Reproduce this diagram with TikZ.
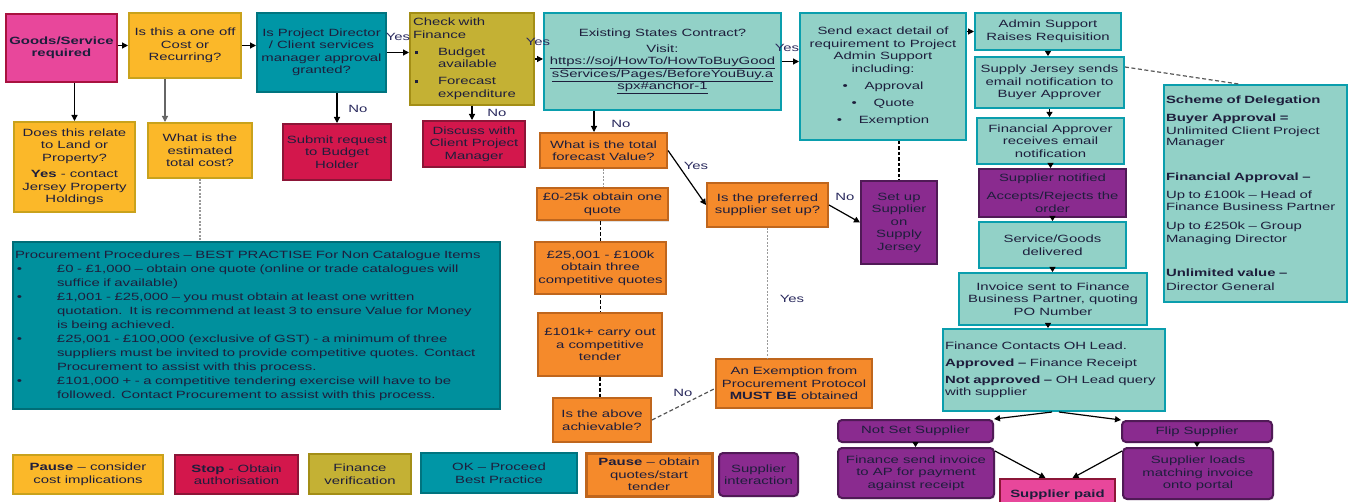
\documentclass[tikz,border=0pt]{standalone}
\usepackage{fontspec}
\setmainfont{Liberation Sans}[FakeStretch=1.42]
\usetikzlibrary{arrows.meta,shadows,calc}
\definecolor{txt}{HTML}{1E1E3C}
\definecolor{pinkF}{HTML}{E8479B}
\definecolor{pinkD}{HTML}{A8123F}
\definecolor{yelF}{HTML}{FBB829}
\definecolor{yelD}{HTML}{C9A21C}
\definecolor{tealF}{HTML}{0096A6}
\definecolor{tealD}{HTML}{00747F}
\definecolor{oliF}{HTML}{C4B134}
\definecolor{oliD}{HTML}{A38E16}
\definecolor{ltF}{HTML}{92D1C7}
\definecolor{ltD}{HTML}{0A9EAD}
\definecolor{crF}{HTML}{D3174C}
\definecolor{crD}{HTML}{8C1537}
\definecolor{orF}{HTML}{F58A2B}
\definecolor{orD}{HTML}{BF661D}
\definecolor{puF}{HTML}{8A2B8F}
\definecolor{puD}{HTML}{501A56}
\definecolor{prF}{HTML}{00909D}
\definecolor{prD}{HTML}{006D77}
\definecolor{lblc}{HTML}{2A2A5E}
\newcommand\fsz{\fontsize{10.5}{12.5}\selectfont}
\newcommand\procbul{\makebox[42pt][l]{\hspace{2pt}•}}
\newcommand\procind{\hspace*{42pt}}
\newcommand\finbul{\makebox[25pt][l]{\hspace{2pt}\rule[1.5pt]{3pt}{3pt}}}
\begin{document}
\begin{tikzpicture}[x=1pt,y=-1pt,
  every node/.style={font=\fsz, text=txt},
  wh/.style 2 args={minimum width=#1pt, minimum height=#2pt},
  bx/.style={draw, line width=2pt, inner sep=1pt, align=center,
    drop shadow={shadow xshift=1.2pt, shadow yshift=-1.2pt, opacity=0.25}},
  pinkb/.style={bx, fill=pinkF, draw=pinkD},
  yelb/.style={bx, fill=yelF, draw=yelD},
  tealb/.style={bx, fill=tealF, draw=tealD},
  olib/.style={bx, fill=oliF, draw=oliD},
  ltb/.style={bx, fill=ltF, draw=ltD},
  crb/.style={bx, fill=crF, draw=crD},
  orb/.style={bx, fill=orF, draw=orD},
  pub/.style={bx, fill=puF, draw=puD},
  pubr/.style={pub, rounded corners=4pt},
  prb/.style={bx, fill=prF, draw=prD},
  lbl/.style={text=lblc, inner sep=0pt},
  arr/.style={-{Triangle[length=6pt,width=6pt]}, line width=1.2pt, draw=black},
  arrs/.style={-{Triangle[length=5pt,width=6pt]}, line width=1pt, draw=black},
  garr/.style={arr, draw=black!60},
  dgray/.style={line width=1.5pt, draw=black!40, dash pattern=on 2pt off 1.5pt},
  dblack/.style={line width=1.3pt, draw=black, dash pattern=on 3.5pt off 2pt},
  ddark/.style={line width=1.2pt, draw=black!65, dash pattern=on 4pt off 2.5pt}
]
\fill[white] (0,0) rectangle (1354,502);
\useasboundingbox (0,0) rectangle (1354,502);

% top row
\node[pinkb, wh={111}{68}, font=\fsz\bfseries] (goods) at (61.5,48) {Goods/Service\\required};
\node[yelb, wh={112}{65}] (oneoff) at (185,45.5) {Is this a one off\\Cost or\\Recurring?};
\node[tealb, wh={129}{79}] (projdir) at (321.5,52.5) {Is Project Director\\/ Client services\\manager approval\\granted?};
\node[olib, wh={124}{92}, text width=118pt, align=left] (checkfin) at (472,59)
 {Check with\\Finance\\[4.5pt]\finbul Budget\\\hspace*{25pt}available\\[4.5pt]\finbul Forecast\\\hspace*{25pt}expenditure};
\node[ltb, wh={237}{97}] (existing) at (662.5,61.5)
 {Existing States Contract?\\[3.5pt]Visit:\\\underline{https://soj/HowTo/HowToBuyGood}\\\underline{sServices/Pages/BeforeYouBuy.a}\\\underline{spx\#anchor-1}};
\node[ltb, wh={166}{127}] (sendexact) at (883,76.5)
 {Send exact detail of\\requirement to Project\\Admin Support\\including:\\[4.5pt]\makebox[22pt][l]{•}Approval\\[5pt]\makebox[22pt][l]{•}Quote\\[4.5pt]\makebox[22pt][l]{•}Exemption};

% right column
\node[ltb, wh={146}{37}] (admin) at (1048,31.5) {Admin Support\\Raises Requisition};
\node[ltb, wh={149}{51}] (supplyjersey) at (1049.5,82.5) {Supply Jersey sends\\email notification to\\Buyer Approver};
\node[ltb, wh={147}{46}] (finapprover) at (1050.5,141) {Financial Approver\\receives email\\notification};
\node[pub, wh={147}{48}] (suppnotified) at (1052.5,193) {Supplier notified\\[5.5pt]Accepts/Rejects the\\order};
\node[ltb, wh={147}{46}] (delivered) at (1052.5,245) {Service/Goods\\delivered};
\node[ltb, wh={188}{52}] (invoice) at (1053,299) {Invoice sent to Finance\\Business Partner, quoting\\PO Number};
\node[ltb, wh={222}{82}, text width=218pt, align=left] (ohlead) at (1054,370)
 {Finance Contacts OH Lead.\\[4.5pt]{\bfseries Approved –} Finance Receipt\\[4.5pt]{\bfseries Not approved –} OH Lead query\\with supplier};
\node[ltb, wh={183}{217}, text width=179pt, align=left] (scheme) at (1255.5,193.5)
 {{\bfseries Scheme of Delegation}\\[5.5pt]
  {\bfseries Buyer Approval =}\\[0.5pt]
  Unlimited Client Project\\[-1.5pt]
  Manager\\[22pt]
  {\bfseries Financial Approval –}\\[5.5pt]
  Up to £100k – Head of\\
  Finance Business Partner\\[6.5pt]
  Up to £250k – Group\\
  Managing Director\\[21.5pt]
  {\bfseries Unlimited value –}\\[1.5pt]
  Director General};

% orange column
\node[orb, wh={127}{35}] (forecast) at (603.5,150.5) {What is the total\\forecast Value?};
\node[orb, wh={131}{32}] (q0) at (602.5,204.5) {£0-25k obtain one\\quote};
\node[orb, wh={131}{52}] (q25) at (600.5,268) {£25,001 - £100k\\obtain three\\competitive quotes};
\node[orb, wh={124}{63}] (q101) at (600,344.5) {£101k+ carry out\\a competitive\\tender};
\node[orb, wh={98}{44}] (achievable) at (602,420) {Is the above\\achievable?};
\node[orb, wh={121}{44}] (preferred) at (767.5,205) {Is the preferred\\supplier set up?};
\node[pub, wh={76}{83}] (setup) at (899,222.5) {Set up\\Supplier\\on\\Supply\\Jersey};
\node[orb, wh={156}{49}] (exemption) at (794,383.5) {An Exemption from\\Procurement Protocol\\{\bfseries MUST BE} obtained};

% second row left
\node[yelb, wh={121}{90}] (landprop) at (74.5,167) {Does this relate\\to Land or\\Property?\\[4pt]{\bfseries Yes} - contact\\Jersey Property\\Holdings};
\node[yelb, wh={104}{55}] (estcost) at (200,150.5) {What is the\\estimated\\total cost?};
\node[crb, wh={108}{56}] (submit) at (337,152) {Submit request\\to Budget\\Holder};
\node[crb, wh={102}{46}] (discuss) at (474,144) {Discuss with\\Client Project\\Manager};

\node[prb, wh={487}{167}, text width=483pt, align=left, font=\fontsize{10.5}{14}\selectfont] (procure) at (256.5,325.5)
 {Procurement Procedures – BEST PRACTISE For Non Catalogue Items\\
  \procbul £0 - £1,000 – obtain one quote (online or trade catalogues will\\
  \procind suffice if available)\\
  \procbul £1,001 - £25,000 – you must obtain at least one written\\
  \procind quotation.\ \ It is recommend at least 3 to ensure Value for Money\\
  \procind is being achieved.\\
  \procbul £25,001 - £100,000 (exclusive of GST) - a minimum of three\\
  \procind suppliers must be invited to provide competitive quotes. Contact\\
  \procind Procurement to assist with this process.\\
  \procbul £101,000 + - a competitive tendering exercise will have to be\\
  \procind followed. Contact Procurement to assist with this process.};

% bottom right
\node[pubr, wh={155}{22}] (notset) at (915.5,431) {Not Set Supplier};
\node[pubr, wh={150}{21}] (flip) at (1197,431.5) {Flip Supplier};
\node[pubr, wh={156}{50}] (finsend) at (916,473) {Finance send invoice\\to AP for payment\\against receipt};
\node[pubr, wh={150}{51}] (supploads) at (1198,473.5) {Supplier loads\\matching invoice\\onto portal};
\node[pinkb, draw=crD, wh={115}{31}, font=\fsz\bfseries] (paid) at (1057.5,494.5) {Supplier paid};

% legend
\node[yelb, wh={150}{39}] (lg1) at (88,474.5) {{\bfseries Pause} – consider\\cost implications};
\node[crb, wh={123}{39}] (lg2) at (236.5,474.5) {{\bfseries Stop} - Obtain\\authorisation};
\node[olib, wh={102}{40}] (lg3) at (360,474) {Finance\\verification};
\node[tealb, wh={156}{40}] (lg4) at (499,473) {OK – Proceed\\Best Practice};
\node[orb, line width=3pt, wh={126}{43}] (lg5) at (649,474.5) {{\bfseries Pause} – obtain\\quotes/start\\tender};
\node[pubr, wh={79}{43}] (lg6) at (758.5,474.5) {Supplier\\interaction};

% labels
\node[lbl] (lyes1) at (398,37) {Yes};
\node[lbl] (lno1) at (358,109) {No};
\node[lbl] (lyes2) at (538,42) {Yes};
\node[lbl] (lno2) at (497,113) {No};
\node[lbl] (lyes3) at (787,48) {Yes};
\node[lbl] (lno3) at (621,124) {No};
\node[lbl] (lyes4) at (696,166) {Yes};
\node[lbl] (lno4) at (845,197) {No};
\node[lbl] (lyes5) at (792,299) {Yes};
\node[lbl] (lno5) at (683,393) {No};

% connectors
\draw[arr] (goods.east |- oneoff.west) -- (oneoff.west);
\draw[arr] (oneoff.east) -- (oneoff.east -| projdir.west);
\draw[arr] (landprop.north |- goods.south) -- (landprop.north);
\draw[garr] ([xshift=-35pt]estcost.north |- oneoff.south) -- ([xshift=-35pt]estcost.north);
\draw[arr] (projdir.east) -- (projdir.east -| checkfin.west);
\draw[arr] (projdir.south -| submit.north) -- (submit.north);
\draw[arr] (checkfin.east) -- (checkfin.east -| existing.west);
\draw[arr] (checkfin.south) -- (checkfin.south |- discuss.north);
\draw[arr] (existing.east) -- (existing.east -| sendexact.west);
\draw[arr] ([xshift=-9.5pt]forecast.north |- existing.south) -- ([xshift=-9.5pt]forecast.north);
\draw[arr] (admin.west -| sendexact.east) -- (admin.west);
\draw[arrs] (admin.south) -- (admin.south |- supplyjersey.north);
\draw[arrs] (supplyjersey.south) -- (supplyjersey.south |- finapprover.north);
\draw[arrs] (finapprover.south) -- (finapprover.south |- suppnotified.north);
\draw[arrs] (suppnotified.south) -- (suppnotified.south |- delivered.north);
\draw[arrs] (delivered.south) -- (delivered.south |- invoice.north);
\draw[arrs] ([xshift=-5pt]invoice.south) -- ([xshift=-5pt]invoice.south |- ohlead.north);
\draw[arr] ([xshift=-2pt]ohlead.south) -- (notset.north east);
\draw[arr] ([xshift=5pt]ohlead.south) -- (flip.north west);
\draw[arrs] (notset.south) -- (notset.south |- finsend.north);
\draw[arrs] (flip.south) -- (flip.south |- supploads.north);
\draw[arr] ([yshift=-4pt]finsend.north east) -- ([xshift=-12pt]paid.north);
\draw[arr] ([yshift=-4pt]supploads.north west) -- ([xshift=15pt]paid.north);
\draw[arr] (forecast.east) -- (preferred.west);
\draw[arr] (preferred.east) -- (setup.west);

\draw[dgray] (preferred.south) -- (preferred.south |- exemption.north);
\draw[dgray] (estcost.south) -- (estcost.south |- procure.north);
\draw[dgray] (forecast.south) -- (forecast.south |- q0.north);
\draw[dblack] (q25.north |- q0.south) -- (q25.north);
\draw[dblack] (q25.south) -- (q25.south |- q101.north);
\draw[dblack] (q101.south) -- (q101.south |- achievable.north);
\draw[dblack] (setup.north |- sendexact.south) -- (setup.north);
\draw[ddark] (achievable.east) -- ([yshift=-5pt]exemption.west);
\draw[ddark] ([yshift=-11pt]supplyjersey.north east) -- ([xshift=-17pt]scheme.north);
\end{tikzpicture}
\end{document}
